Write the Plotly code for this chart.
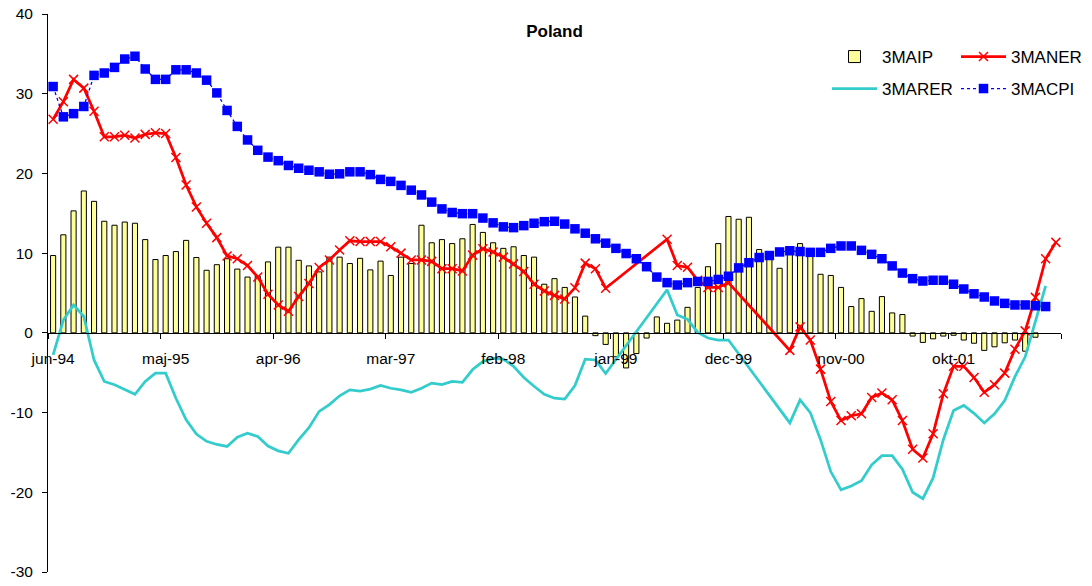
import plotly.graph_objects as go

# ---- data (monthly, jun-94 .. aug-02) ----
month_names = ["jan", "feb", "mar", "apr", "maj", "jun", "jul", "aug", "sep", "okt", "nov", "dec"]
start_year, start_month, n_months = 1994, 6, 99
months = []
for k in range(n_months):
    m = (start_month - 1 + k) % 12
    y = start_year + (start_month - 1 + k) // 12
    months.append(f"{month_names[m]}-{y % 100:02d}")

tick_labels = ["jun-94", "maj-95", "apr-96", "mar-97", "feb-98", "jan-99", "dec-99", "nov-00", "okt-01"]
y_ticks = [-30, -20, -10, 0, 10, 20, 30, 40]
y_tick_text = ["-30", "-20", "-10", "0", "10", "20", "30", "40"]

ip_3ma = [9.7, 12.3, 15.3, 17.8, 16.5, 14.0, 13.5, 13.9, 13.75, 11.7,
          9.2, 9.7, 10.2, 11.6, 9.45, 7.85, 8.55, 9.3, 8.0, 7.0,
          7.1, 8.9, 10.75, 10.75, 9.1, 8.4, 7.65, 9.5, 9.5, 8.7,
          9.35, 7.9, 9.0, 7.2, 9.5, 8.7, 13.5, 11.3, 11.7, 11.2,
          11.8, 13.6, 12.6, 11.3, 10.6, 10.8, 9.7, 9.5, 6.1, 6.8,
          5.7, 4.5, 2.1, -0.35, -1.45, -3.0, -4.4, -2.6, -0.65, 2.0,
          1.2, 1.6, 3.2, 5.7, 8.3, 11.2, 14.6, 14.25, 14.5, 10.45,
          9.85, 8.1, 10.4, 11.2, 10.4, 7.35, 7.2, 5.7, 3.3, 4.3,
          2.7, 4.55, 2.5, 2.3, -0.4, -1.2, -0.75, -0.4, -0.3, -0.9,
          -1.3, -2.2, -1.75, -1.25, -0.9, -2.3, -0.55, None, None]

ner_3ma = [26.8, 29.0, 31.8, 30.7, 27.8, 24.6, 24.6, 24.8, 24.45, 24.9,
           25.1, 25.0, 22.0, 18.55, 15.8, 13.75, 11.95, 9.65, 9.3, 8.45,
           7.0, 4.85, 3.5, 2.7, 4.55, 6.2, 8.2, 9.15, 10.4, 11.55,
           11.45, 11.45, 11.45, 10.8, 10.0, 9.15, 9.15, 8.97, 8.05, 8.05,
           7.77, 9.75, 10.55, 10.15, 9.5, 8.65, 7.7, 6.1, 5.25, 4.7,
           4.25, 5.65, 8.75, 8.05, 5.6, None, None, None, None, None,
           11.75, 8.45, 8.22, 6.6, 5.7, 5.7, 6.3, None, None, None,
           None, None, -2.2, 0.75, -0.9, -4.55, -8.6, -11.0, -10.4, -10.15,
           -8.1, -7.55, -8.4, -11.0, -14.6, -15.7, -12.65, -7.65, -4.2, -4.2,
           -5.6, -7.45, -6.5, -5.05, -2.05, 0.25, 4.45, 9.3, 11.35]

rer_3ma = [-2.75, 1.6, 3.5, 2.05, -3.4, -6.1, -6.5, -7.05, -7.7, -6.1,
           -5.05, -5.05, -8.2, -10.9, -12.7, -13.6, -14.0, -14.25, -13.1, -12.6,
           -13.0, -14.2, -14.8, -15.1, -13.4, -11.9, -9.85, -9.0, -7.9, -7.15,
           -7.3, -7.05, -6.6, -6.95, -7.15, -7.45, -6.95, -6.3, -6.5, -6.1,
           -6.2, -4.6, -3.6, -3.2, -3.3, -4.2, -5.6, -6.7, -7.7, -8.2,
           -8.3, -6.6, -3.3, -3.4, -5.1, None, None, None, None, None,
           5.4, 2.25, 1.7, 0.05, -0.65, -0.9, -0.9, None, None, None,
           None, None, -11.3, -8.4, -10.0, -13.4, -17.4, -19.7, -19.2, -18.55,
           -16.55, -15.4, -15.4, -17.1, -20.0, -20.8, -18.2, -13.4, -9.75, -9.1,
           -10.1, -11.3, -10.15, -8.5, -5.5, -3.0, 1.6, 5.9, None]

cpi_3ma = [30.9, 27.1, 27.5, 28.4, 32.3, 32.6, 33.3, 34.35, 34.7, 33.1,
           31.8, 31.8, 33.0, 33.0, 32.6, 31.7, 30.1, 27.9, 25.9, 24.2,
           22.9, 22.05, 21.6, 21.0, 20.65, 20.4, 20.2, 19.9, 19.95, 20.2,
           20.2, 19.85, 19.25, 19.0, 18.5, 17.9, 17.3, 16.4, 15.55, 15.1,
           14.95, 14.95, 14.4, 13.8, 13.3, 13.2, 13.45, 13.75, 13.95, 14.0,
           13.65, 13.05, 12.5, 11.8, 11.25, 10.6, 9.95, 9.3, 8.3, 7.0,
           6.3, 6.0, 6.3, 6.45, 6.45, 6.7, 7.1, 8.15, 8.8, 9.45,
           9.7, 10.15, 10.3, 10.2, 10.1, 10.1, 10.6, 10.9, 10.9, 10.35,
           9.85, 9.3, 8.4, 7.5, 6.8, 6.5, 6.6, 6.6, 6.1, 5.5,
           4.9, 4.5, 4.0, 3.7, 3.5, 3.5, 3.4, 3.3, None]

x = list(range(len(months)))
tick_pos = [months.index(t) for t in tick_labels]

FONT = "Liberation Sans, Arial, sans-serif"

fig = go.Figure()
fig.add_trace(go.Bar(
    x=x, y=ip_3ma, name="3MAIP", width=0.5,
    marker=dict(color="#FFFF99", line=dict(color="#000000", width=1)),
    legend="legend"))
fig.add_trace(go.Scatter(
    x=x, y=ner_3ma, name="3MANER", mode="lines+markers", connectgaps=True,
    line=dict(color="#FF0000", width=2.75),
    marker=dict(symbol="x-thin", size=9, color="#FF0000", line=dict(color="#FF0000", width=1.5)),
    legend="legend"))
fig.add_trace(go.Scatter(
    x=x, y=rer_3ma, name="3MARER", mode="lines", connectgaps=True,
    line=dict(color="#33CCCC", width=2.75),
    legend="legend2"))
fig.add_trace(go.Scatter(
    x=x, y=cpi_3ma, name="3MACPI", mode="lines+markers", connectgaps=True,
    line=dict(color="#0000FF", width=1.3, dash="dot"),
    marker=dict(symbol="square", size=9.5, color="#0000FF"),
    legend="legend2"))

legend_common = dict(
    orientation="h", xanchor="left", yanchor="middle",
    xref="container", yref="container",
    font=dict(family=FONT, size=17, color="#000000"),
    bgcolor="rgba(0,0,0,0)", itemwidth=45,
    entrywidth=69, entrywidthmode="pixels",
    traceorder="normal", tracegroupgap=0)

fig.update_layout(
    template="none",
    width=1092, height=586,
    margin=dict(l=48, r=31, t=14, b=14, autoexpand=False),
    plot_bgcolor="white", paper_bgcolor="white",
    barmode="overlay",
    font=dict(family=FONT, color="#000000"),
    title=dict(text="<b>Poland</b>", x=0.5, xref="paper", xanchor="center",
               y=1 - 31 / 586, yanchor="middle",
               font=dict(family=FONT, size=17, color="#000000")),
    legend=dict(x=827 / 1092, y=1 - 57 / 586, **legend_common),
    legend2=dict(x=827 / 1092, y=1 - 89 / 586, **legend_common),
    xaxis=dict(
        range=[-0.5, len(months) - 0.5], anchor="free", position=30 / 70,
        automargin=False,
        showline=True, linecolor="#000000", linewidth=1,
        tickmode="array", tickvals=tick_pos, ticktext=tick_labels,
        ticks="outside", ticklen=12, tickcolor="rgba(0,0,0,0)",
        minor=dict(tickmode="linear", tick0=-0.5, dtick=11, ticks="outside",
                   ticklen=5, tickcolor="#000000", tickwidth=1, showgrid=False),
        showgrid=False, zeroline=False,
        tickfont=dict(family=FONT, size=15.5, color="#000000")),
    yaxis=dict(
        range=[y_ticks[0], y_ticks[-1]], tickmode="array",
        tickvals=y_ticks, ticktext=y_tick_text,
        automargin=False,
        showline=True, linecolor="#000000", linewidth=1,
        ticks="outside", ticklen=5, tickcolor="#000000",
        showgrid=False, zeroline=False, ticklabelstandoff=6,
        tickfont=dict(family=FONT, size=15.5, color="#000000")),
    showlegend=True,
)

fig.write_html(
    "out.html",
    config={"displayModeBar": False},
    post_script="document.body.style.margin='0px';document.body.style.overflow='hidden';",
)
